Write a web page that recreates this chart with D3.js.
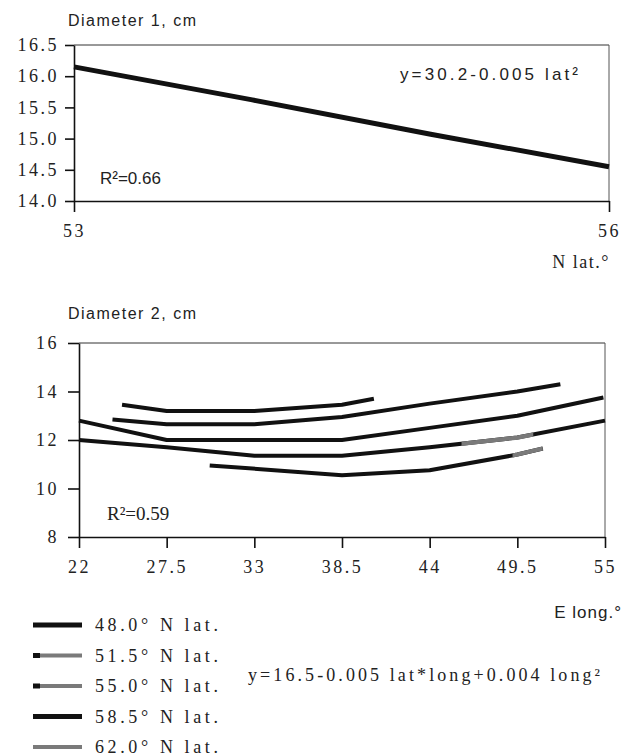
<!DOCTYPE html>
<html>
<head>
<meta charset="utf-8">
<script src="https://cdn.jsdelivr.net/npm/d3@7"></script>
<style>
  body { margin: 0; background: #fff; }
</style>
</head>
<body>
<div id="chart"></div>
<script>
// Diameter 1 vs latitude (top panel)
var topLat = [53, 54, 55, 56];
var topDiam = [16.15, 15.62, 15.07, 14.55];
var topYTicks = [14.0, 14.5, 15.0, 15.5, 16.0, 16.5];
var topXTicks = [53, 56];

// Diameter 2 vs longitude, one line per latitude (bottom panel)
var latLabels = ["48.0", "51.5", "55.0", "58.5", "62.0"];
var longs48 = [24.7, 27.5, 33, 38.5, 40.5];
var diam48 = [13.45, 13.2, 13.2, 13.45, 13.7];
var longs515 = [24.1, 27.5, 33, 38.5, 44, 49.5, 52.2];
var diam515 = [12.85, 12.65, 12.65, 12.95, 13.5, 14.0, 14.3];
var longs55 = [22, 27.5, 33, 38.5, 44, 49.5, 54.9];
var diam55 = [12.8, 12.0, 12.0, 12.0, 12.5, 13.0, 13.75];
var longs585 = [22, 27.5, 33, 38.5, 44, 49.5, 55];
var diam585 = [12.0, 11.7, 11.35, 11.35, 11.7, 12.1, 12.8];
var longs62 = [30.2, 38.5, 44, 49.5, 51.1];
var diam62 = [10.95, 10.55, 10.75, 11.4, 11.65];
// parts of the scanned lines that print grey
var grayLat = ["58.5", "62.0"];
var grayFrom = [46, 49.2];
var grayTo = [50.5, 51.1];
var legendStyle = ["black", "mixed", "mixed", "black", "gray"];
var botYTicks = [8, 10, 12, 14, 16];
var botXTicks = [22, 27.5, 33, 38.5, 44, 49.5, 55];

var W = 633, H = 756;
var ink = "#111", grey = "#7a7a7a";
var SERIF = "'Liberation Serif', 'DejaVu Serif', 'Times New Roman', serif";
var SANS = "'Liberation Sans', Arial, sans-serif";

var svg = d3.select("#chart").append("svg")
    .attr("width", W)
    .attr("height", H);

function label(x, y, txt, font, size) {
    return svg.append("text")
        .attr("x", x).attr("y", y)
        .style("font-family", font)
        .style("font-size", size + "px")
        .attr("fill", "#222")
        .text(txt);
}

function frame(x, y) {
    var x0 = x.range()[0], x1 = x.range()[1];
    var y0 = y.range()[0], y1 = y.range()[1];
    svg.append("line").attr("x1", x0).attr("x2", x1).attr("y1", y1).attr("y2", y1)
        .attr("stroke", "#333").attr("stroke-width", 1);
    svg.append("line").attr("x1", x1).attr("x2", x1).attr("y1", y1).attr("y2", y0)
        .attr("stroke", "#555").attr("stroke-width", 1);
}

function styleAxis(g) {
    g.attr("font-family", null).attr("font-size", null);
    g.select(".domain").attr("stroke", ink).attr("stroke-width", 1.6);
    g.selectAll(".tick line").attr("stroke", ink).attr("stroke-width", 1.6);
    g.selectAll(".tick text")
        .style("font-family", SERIF)
        .style("font-size", "18px")
        .attr("letter-spacing", 2.5)
        .attr("fill", "#222");
}

// ---------- top panel ----------
var xTop = d3.scaleLinear().domain([53, 56]).range([74, 609]);
var yTop = d3.scaleLinear().domain([14, 16.5]).range([201, 45]);

frame(xTop, yTop);

svg.append("g")
    .attr("transform", "translate(0," + yTop(14) + ")")
    .call(d3.axisBottom(xTop).tickValues(topXTicks).tickSize(11).tickSizeOuter(0).tickPadding(12)
        .tickFormat(d3.format("d")))
    .call(styleAxis);

svg.append("g")
    .attr("transform", "translate(" + xTop(53) + ",0)")
    .call(d3.axisLeft(yTop).tickValues(topYTicks).tickSize(9).tickSizeOuter(0).tickPadding(6)
        .tickFormat(d3.format(".1f")))
    .call(styleAxis);

svg.append("path")
    .datum(topLat.map(function(d, i) { return [d, topDiam[i]]; }))
    .attr("fill", "none")
    .attr("stroke", ink)
    .attr("stroke-width", 5)
    .attr("d", d3.line()
        .x(function(d) { return xTop(d[0]); })
        .y(function(d) { return yTop(d[1]); }));

label(68, 26, "Diameter 1, cm", SANS, 16).attr("letter-spacing", 1.5);

label(400, 80, "y=30.2-0.005  lat²", SANS, 17)
    .attr("textLength", 178).attr("lengthAdjust", "spacing");

label(100, 184, "R²=0.66", SANS, 17);

label(610, 268, "N  lat.°", SERIF, 18)
    .attr("text-anchor", "end").attr("letter-spacing", 1.5);

// ---------- bottom panel ----------
var xBot = d3.scaleLinear().domain([22, 55]).range([79, 605]);
var yBot = d3.scaleLinear().domain([8, 16]).range([537, 343]);

frame(xBot, yBot);

svg.append("g")
    .attr("transform", "translate(0," + yBot(8) + ")")
    .call(d3.axisBottom(xBot).tickValues(botXTicks).tickSize(11).tickSizeOuter(0).tickPadding(12)
        .tickFormat(function(d) { return d % 1 === 0 ? d : d.toFixed(1); }))
    .call(styleAxis);

svg.append("g")
    .attr("transform", "translate(" + xBot(22) + ",0)")
    .call(d3.axisLeft(yBot).tickValues(botYTicks).tickSize(11).tickSizeOuter(0).tickPadding(9))
    .call(styleAxis);

var series = [
    {lat: latLabels[0], longs: longs48, diam: diam48},
    {lat: latLabels[1], longs: longs515, diam: diam515},
    {lat: latLabels[2], longs: longs55, diam: diam55},
    {lat: latLabels[3], longs: longs585, diam: diam585},
    {lat: latLabels[4], longs: longs62, diam: diam62}
];

var lineBot = d3.line()
    .x(function(d) { return xBot(d[0]); })
    .y(function(d) { return yBot(d[1]); });

series.forEach(function(s) {
    s.pts = s.longs.map(function(l, i) { return [l, s.diam[i]]; });
    svg.append("path")
        .datum(s.pts)
        .attr("fill", "none")
        .attr("stroke", ink)
        .attr("stroke-width", 4)
        .attr("stroke-linejoin", "round")
        .attr("d", lineBot);
});

// grey stretches, clipped from the same lines
grayLat.forEach(function(lat, i) {
    var s = series.find(function(d) { return d.lat === lat; });
    var id = "clipGray" + i;
    svg.append("clipPath").attr("id", id)
        .append("rect")
            .attr("x", xBot(grayFrom[i]))
            .attr("width", xBot(grayTo[i]) - xBot(grayFrom[i]))
            .attr("y", yBot(16))
            .attr("height", yBot(8) - yBot(16));
    svg.append("path")
        .datum(s.pts)
        .attr("clip-path", "url(#" + id + ")")
        .attr("fill", "none")
        .attr("stroke", grey)
        .attr("stroke-width", 4.2)
        .attr("d", lineBot);
});

label(68, 319, "Diameter 2, cm", SANS, 16).attr("letter-spacing", 1.5);

label(107, 520, "R²=0.59", SERIF, 19);

label(622, 618, "E  long.°", SANS, 17)
    .attr("text-anchor", "end").attr("letter-spacing", 1);

label(248, 681, "y=16.5-0.005  lat*long+0.004  long²", SERIF, 18)
    .attr("textLength", 352).attr("lengthAdjust", "spacing");

// ---------- legend ----------
var legend = svg.append("g").attr("transform", "translate(33,625)");
var rowH = 30.5;

latLabels.forEach(function(lat, i) {
    var row = legend.append("g").attr("transform", "translate(0," + (i * rowH) + ")");
    var st = legendStyle[i];
    if (st === "mixed") {
        row.append("line").attr("x1", 0).attr("x2", 7).attr("stroke", ink).attr("stroke-width", 5);
        row.append("line").attr("x1", 7).attr("x2", 49).attr("stroke", grey).attr("stroke-width", 4);
    } else {
        row.append("line").attr("x1", 0).attr("x2", 49)
            .attr("stroke", st === "gray" ? grey : ink)
            .attr("stroke-width", st === "gray" ? 4 : 5);
    }
    row.append("text")
        .attr("x", 62).attr("y", 6)
        .style("font-family", SERIF)
        .style("font-size", "18px")
        .attr("fill", "#222")
        .attr("textLength", 123).attr("lengthAdjust", "spacing")
        .text(lat + "°  N  lat.");
});
</script>
</body>
</html>
